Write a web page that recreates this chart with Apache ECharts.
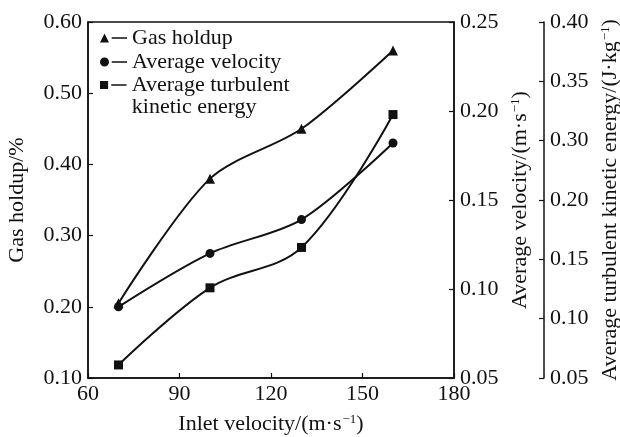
<!DOCTYPE html>
<html>
<head>
<meta charset="utf-8">
<script src="https://cdn.jsdelivr.net/npm/echarts@6/dist/echarts.min.js"></script>
<style>
  html, body { margin: 0; padding: 0; background: #fff; }
  #chart { width: 620px; height: 437px; }
</style>
</head>
<body>
<div id="chart"></div>
<script>
// inlet velocity, m/s
var inletVelocity = [70, 100, 130, 160];
// gas holdup (left axis)
var gasHoldup = [0.205, 0.38, 0.45, 0.56];
// average velocity (first right axis)
var avgVelocity = [0.090, 0.120, 0.139, 0.182];
// average turbulent kinetic energy, read as position on the outer right axis
var avgTke = [0.061, 0.126, 0.160, 0.272];
// tick labels printed on the outer right axis (0.25 is skipped in the original)
var tkeTicks = ['0.05', '0.10', '0.15', '0.20', '0.30', '0.35', '0.40'];

var FONT = "'Liberation Serif', 'Times New Roman', serif";
var FS = 22;
var ink = '#111';

var triIcon = 'path://M0,10 L5,0 L10,10 Z M13,4.3 L30,4.3 L30,5.8 L13,5.8 Z';
var dotIcon = 'path://M0,5 A5,5 0 1,1 10,5 A5,5 0 1,1 0,5 Z M13,4.3 L30,4.3 L30,5.8 L13,5.8 Z';
var sqIcon = 'path://M0.5,0.5 L9.5,0.5 L9.5,9.5 L0.5,9.5 Z M13,4.3 L30,4.3 L30,5.8 L13,5.8 Z M30,0 L30,10 Z';

var chart = echarts.init(document.getElementById('chart'));

function supName(a) {
  return a + '{s|\u22121}{n|)}';
}
var nameRich = {
  s: { fontFamily: FONT, fontSize: 13, verticalAlign: 'top', color: ink, padding: [0, 0, 0, 1] },
  n: { fontFamily: FONT, fontSize: FS, color: ink }
};
var nameStyle = { fontFamily: FONT, fontSize: FS, color: ink, rich: nameRich };

function legendOf(name, icon, top) {
  return {
    data: [{ name: name, icon: icon }],
    left: 100,
    top: top,
    padding: 0,
    itemWidth: 27,
    itemHeight: 9,
    selectedMode: false,
    textStyle: { fontFamily: FONT, fontSize: FS, color: ink, lineHeight: 22 },
    formatter: function (n) {
      // empty first line keeps the first text line level with the icon
      return n === 'Average turbulent kinetic energy' ? '\nAverage turbulent\nkinetic energy' : n;
    }
  };
}

var axisBase = {
  axisLine: { show: true, lineStyle: { color: ink, width: 1.5 } },
  axisTick: { show: true, inside: true, length: 5, lineStyle: { color: ink, width: 1.2 } },
  splitLine: { show: false },
  axisLabel: { fontFamily: FONT, fontSize: FS, color: ink, margin: 6 }
};

var option = {
  backgroundColor: '#fff',
  animation: false,
  grid: {
    left: 88, right: 166, top: 22, bottom: 59,
    outerBoundsMode: 'none',
    containLabel: false,
    show: true, borderColor: ink, borderWidth: 1.5
  },
  legend: [
    legendOf('Gas holdup', triIcon, 27),
    legendOf('Average velocity', dotIcon, 51),
    legendOf('Average turbulent kinetic energy', sqIcon, 52)
  ],
  xAxis: Object.assign({}, axisBase, {
    type: 'value',
    min: 60, max: 180, interval: 30,
    name: supName('Inlet velocity/(m\u00b7s'),
    nameLocation: 'middle',
    nameGap: 35,
    nameTextStyle: nameStyle,
    axisLabel: { fontFamily: FONT, fontSize: FS, color: ink, margin: 5 }
  }),
  yAxis: [
    Object.assign({}, axisBase, {
      type: 'value',
      position: 'left',
      min: 0.1, max: 0.6, interval: 0.1,
      name: 'Gas holdup/%',
      nameLocation: 'middle',
      nameGap: 60,
      nameTextStyle: nameStyle,
      axisLabel: Object.assign({}, axisBase.axisLabel, {
        formatter: function (v) { return v.toFixed(2); }
      })
    }),
    Object.assign({}, axisBase, {
      type: 'value',
      position: 'right',
      min: 0.05, max: 0.25, interval: 0.05,
      name: supName('Average velocity/(m\u00b7s'),
      nameLocation: 'middle',
      nameRotate: 90,
      nameGap: 55,
      nameTextStyle: nameStyle,
      axisLabel: Object.assign({}, axisBase.axisLabel, {
        formatter: function (v) { return v.toFixed(2); }
      })
    }),
    Object.assign({}, axisBase, {
      type: 'value',
      position: 'right',
      offset: 90,
      min: 0.05, max: 0.35, interval: 0.05,
      name: supName('Average turbulent kinetic energy/(J\u00b7kg'),
      nameLocation: 'middle',
      nameRotate: 90,
      nameGap: 53,
      nameTextStyle: nameStyle,
      axisLabel: Object.assign({}, axisBase.axisLabel, {
        formatter: function (v) { return tkeTicks[Math.round((v - 0.05) / 0.05)]; }
      })
    })
  ],
  series: [
    {
      name: 'Gas holdup',
      type: 'line',
      yAxisIndex: 0,
      smooth: 0.3,
      symbol: 'triangle',
      symbolSize: 10,
      data: inletVelocity.map(function (x, i) { return [x, gasHoldup[i]]; }),
      itemStyle: { color: ink },
      lineStyle: { color: ink, width: 2 }
    },
    {
      name: 'Average velocity',
      type: 'line',
      yAxisIndex: 1,
      smooth: 0.3,
      symbol: 'circle',
      symbolSize: 9,
      data: inletVelocity.map(function (x, i) { return [x, avgVelocity[i]]; }),
      itemStyle: { color: ink },
      lineStyle: { color: ink, width: 2 }
    },
    {
      name: 'Average turbulent kinetic energy',
      type: 'line',
      yAxisIndex: 2,
      smooth: 0.35,
      symbol: 'rect',
      symbolSize: 9,
      data: inletVelocity.map(function (x, i) { return [x, avgTke[i]]; }),
      itemStyle: { color: ink },
      lineStyle: { color: ink, width: 2 }
    }
  ]
};

chart.setOption(option);
</script>
</body>
</html>
